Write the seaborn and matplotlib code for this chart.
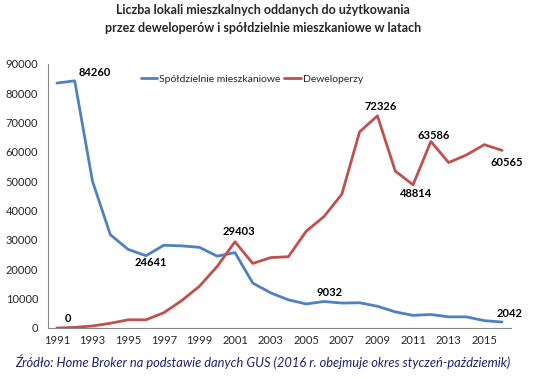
import numpy as np
import pandas as pd
import matplotlib
matplotlib.use("Agg")
import matplotlib.pyplot as plt
import seaborn as sns

# data
years = list(range(1991, 2017))
spoldzielnie = [83500, 84260, 50000, 31800, 26800, 24641, 28200, 28000, 27500, 24500,
                25700, 15300, 12000, 9600, 8200, 9032, 8500, 8600, 7400, 5500,
                4300, 4600, 3800, 3800, 2500, 2042]
deweloperzy = [0, 200, 700, 1600, 2800, 2800, 5200, 9300, 14200, 21000,
               29403, 22000, 24000, 24300, 33000, 38000, 45600, 66900, 72326, 53500,
               48814, 63586, 56400, 59000, 62500, 60565]
series_names = ["Spółdzielnie mieszkaniowe", "Deweloperzy"]
title = "Liczba lokali mieszkalnych oddanych do użytkowania\nprzez deweloperów i spółdzielnie mieszkaniowe w latach"
source = "Źródło: Home Broker na podstawie danych GUS (2016 r. obejmuje okres styczeń-paździemik)"

# labelled points: (series, year, pixel offset of label)
labels = [
    (0, 1992, (20, 8)), (0, 1996, (5, -7)), (0, 2006, (6, 9)), (0, 2016, (7, 9)),
    (1, 1991, (11, 9)), (1, 2001, (4, 10)), (1, 2009, (3, 9)), (1, 2011, (3, -9)),
    (1, 2012, (3, 6)), (1, 2016, (5, -12)),
]

df = pd.DataFrame({"Rok": years * 2,
                   "Liczba": spoldzielnie + deweloperzy,
                   "Seria": [series_names[0]] * len(years) + [series_names[1]] * len(years)})

sns.set_style("white")
plt.rcParams['font.family'] = ['Lato', 'DejaVu Sans']

fig = plt.figure(figsize=(5.36, 3.79), dpi=100)
ax = fig.add_axes([48 / 536, 1 - 328 / 379, (511 - 48) / 536, (328 - 64) / 379])

palette = {series_names[0]: "#4F81BD", series_names[1]: "#C0504D"}
sns.lineplot(data=df, x="Rok", y="Liczba", hue="Seria", palette=palette, linewidth=2, ax=ax)

ax.set_xlim(1990.5, 2016.5)
ax.set_ylim(0, 90000)
ax.set_yticks(range(0, 90001, 10000))
ax.set_yticklabels([str(v) for v in range(0, 90001, 10000)], fontsize=8)
ax.set_xticks(range(1991, 2017, 2))
ax.set_xticklabels([str(y) for y in range(1991, 2017, 2)], fontsize=8)
ax.set_xticks(np.arange(1990.5, 2017, 1), minor=True)
ax.tick_params(axis='x', which='major', length=0, pad=5)
ax.tick_params(axis='x', which='minor', length=4, color="#868686", direction='out')
ax.tick_params(axis='y', length=4, color="#868686", direction='out', pad=3)
ax.set_xlabel("")
ax.set_ylabel("")
for s in ["top", "right"]:
    ax.spines[s].set_visible(False)
for s in ["left", "bottom"]:
    ax.spines[s].set_color("#868686")
    ax.spines[s].set_linewidth(0.8)

for si, yr, off in labels:
    vals = spoldzielnie if si == 0 else deweloperzy
    v = vals[years.index(yr)]
    ax.annotate(str(v), (yr, v), xytext=off, textcoords='offset pixels',
                ha='center', va='center', fontsize=8, fontweight='bold', color='black')

ax.legend(loc='upper center', bbox_to_anchor=(0.44, 1.0), ncol=2, frameon=False,
          fontsize=7.5, handlelength=1.6, handletextpad=0.15, columnspacing=0.4,
          borderaxespad=0.6)

fig.text(263 / 536, 1 - 19 / 379, title, ha='center', va='center', fontsize=9,
         fontweight='bold', linespacing=1.6)
fig.text(15 / 536, 1 - 362 / 379, source, ha='left', va='center', fontsize=9.3,
         style='italic', color="#1F1F6F")

fig.savefig("out.png", dpi=100)
